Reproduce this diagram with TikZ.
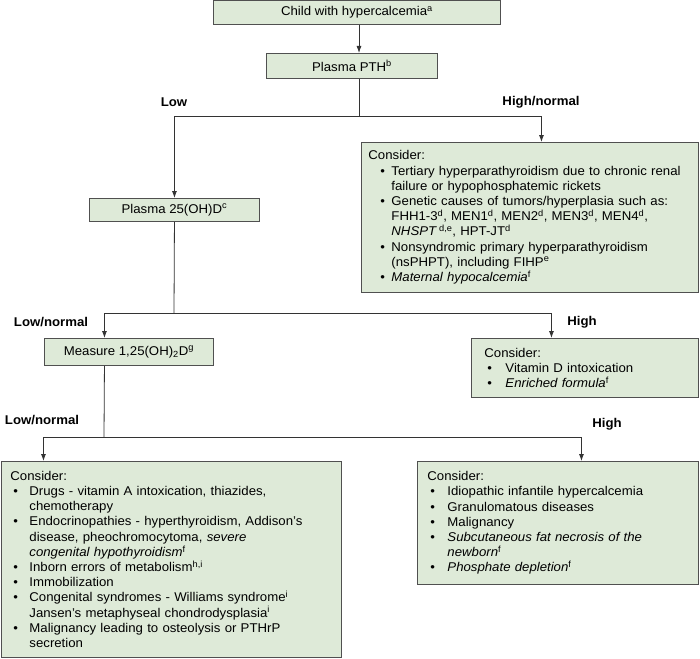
\documentclass[tikz,border=0pt]{standalone}
\usepackage{fontspec}
\setmainfont[FakeStretch=1.04]{Liberation Sans}
\usepackage{tikz}
\usetikzlibrary{arrows.meta,positioning,calc}
\definecolor{boxfill}{HTML}{DEEAD8}
\definecolor{boxline}{HTML}{505050}
\definecolor{linkgray}{HTML}{333333}
\tikzset{
  blk/.style={draw=boxline, fill=boxfill, line width=.9pt, font=\fontsize{12.7}{15.2}\selectfont, inner sep=0pt, anchor=north west},
  hdr/.style={blk, align=center},
  lst/.style={blk, align=left},
  ar/.style={-{Latex[length=7pt,width=5pt]}, line width=.8pt, draw=linkgray},
  ln/.style={line width=.8pt, draw=linkgray},
  lbl/.style={font=\fontsize{12.7}{14}\selectfont\bfseries},
}
\newlength{\indw}
\newlength{\bulx}
\newcommand{\indset}[2]{\setlength{\bulx}{#1}\setlength{\indw}{#2}}
\newcommand{\itm}{\makebox[\indw][l]{\hspace{\bulx}\textbullet}}
\newcommand{\cnt}{\hspace*{\indw}}
\newcommand{\sps}[1]{\textsuperscript{#1}}

\begin{document}
\begin{tikzpicture}[x=1pt,y=-1pt]
  \useasboundingbox (0,0) rectangle (700,658);

  % top of the tree
  \node[hdr, minimum width=287pt, minimum height=24pt] (child) at (213,0) {Child with hypercalcemia\sps{a}};
  \node[hdr, minimum width=171pt, minimum height=25pt] (pth) at (266,53) {Plasma PTH\sps{b}};
  \node[hdr, minimum width=170pt, minimum height=23pt] (ohd) at (89,198) {Plasma 25(OH)D\sps{c}};
  \node[hdr, minimum width=169pt, minimum height=27pt] (measure) at (44,338) {Measure 1,25(OH)\textsubscript{2}D\sps{g}};

  % consider boxes
  \node[lst, minimum width=337pt, minimum height=150pt, text width=323pt, inner xsep=7pt] (consA) at (361,142) {%
    \indset{12pt}{23pt}Consider:\\
    \itm Tertiary hyperparathyroidism due to chronic renal\\
    \cnt failure or hypophosphatemic rickets\\
    \itm Genetic causes of tumors/hyperplasia such as:\\
    \cnt FHH1-3\sps{d}, MEN1\sps{d}, MEN2\sps{d}, MEN3\sps{d}, MEN4\sps{d},\\
    \cnt \textit{NHSPT}\,\sps{d,e}, HPT-JT\sps{d}\\
    \itm Nonsyndromic primary hyperparathyroidism\\
    \cnt (nsPHPT), including FIHP\sps{e}\\
    \itm \textit{Maternal hypocalcemia}\sps{f}};
  \node[lst, minimum width=227pt, minimum height=59pt, text width=201pt, inner xsep=13pt] (consB) at (471,338) {%
    \indset{3pt}{21pt}Consider:\\
    \itm Vitamin D intoxication\\
    \itm \textit{Enriched formula}\sps{f}};
  \node[lst, minimum width=340pt, minimum height=196pt, text width=322pt, inner xsep=8pt] (consC) at (1,461) {%
    \indset{3pt}{19pt}Consider:\\
    \itm Drugs - vitamin A intoxication, thiazides,\\
    \cnt chemotherapy\\
    \itm Endocrinopathies - hyperthyroidism, Addison's\\
    \cnt disease, pheochromocytoma, \textit{severe}\\
    \cnt \textit{congenital hypothyroidism}\sps{f}\\
    \itm Inborn errors of metabolism\sps{h,i}\\
    \itm Immobilization\\
    \itm Congenital syndromes - Williams syndrome\sps{i}\\
    \cnt Jansen's metaphyseal chondrodysplasia\sps{i}\\
    \itm Malignancy leading to osteolysis or PTHrP\\
    \cnt secretion};
  \node[lst, minimum width=281pt, minimum height=123pt, text width=261pt, inner xsep=10pt] (consD) at (417,461) {%
    \indset{3pt}{20pt}Consider:\\
    \itm Idiopathic infantile hypercalcemia\\
    \itm Granulomatous diseases\\
    \itm Malignancy\\
    \itm \textit{Subcutaneous fat necrosis of the}\\
    \cnt \textit{newborn}\sps{f}\\
    \itm \textit{Phosphate depletion}\sps{f}};

  % branch labels
  \node[lbl] (lowA) at (174,102) {Low};
  \node[lbl] (highA) at (541,102) {High/normal};
  \node[lbl] (lowB) at (51,322) {Low/normal};
  \node[lbl] (highB) at (582,322) {High};
  \node[lbl] (lowC) at (42,420) {Low/normal};
  \node[lbl] (highC) at (607,424) {High};

  % connectors
  \coordinate (j1) at (359,116);
  \coordinate (j2) at (174,313);
  \coordinate (j3) at (104,437);
  \draw[ar] (child.south -| j1) -- (pth.north -| j1);
  \draw[ln] (pth.south -| j1) -- (j1);
  \draw[ar] (j1) -| (ohd.north);
  \draw[ar] (j1) -| ([xshift=11.5pt]consA.north);
  \draw[ln] (ohd.south) -- (j2);
  \draw[ar] (j2) -| ([xshift=-24.5pt]measure.north);
  \draw[ar] (j2) -| ([xshift=-33.5pt]consB.north);
  \draw[ln] ([xshift=-24.5pt]measure.south) -- (j3);
  \draw[ar] (j3) -| ([xshift=-128pt]consC.north);
  \draw[ar] (j3) -| ([xshift=23.5pt]consD.north);
\end{tikzpicture}
\end{document}
